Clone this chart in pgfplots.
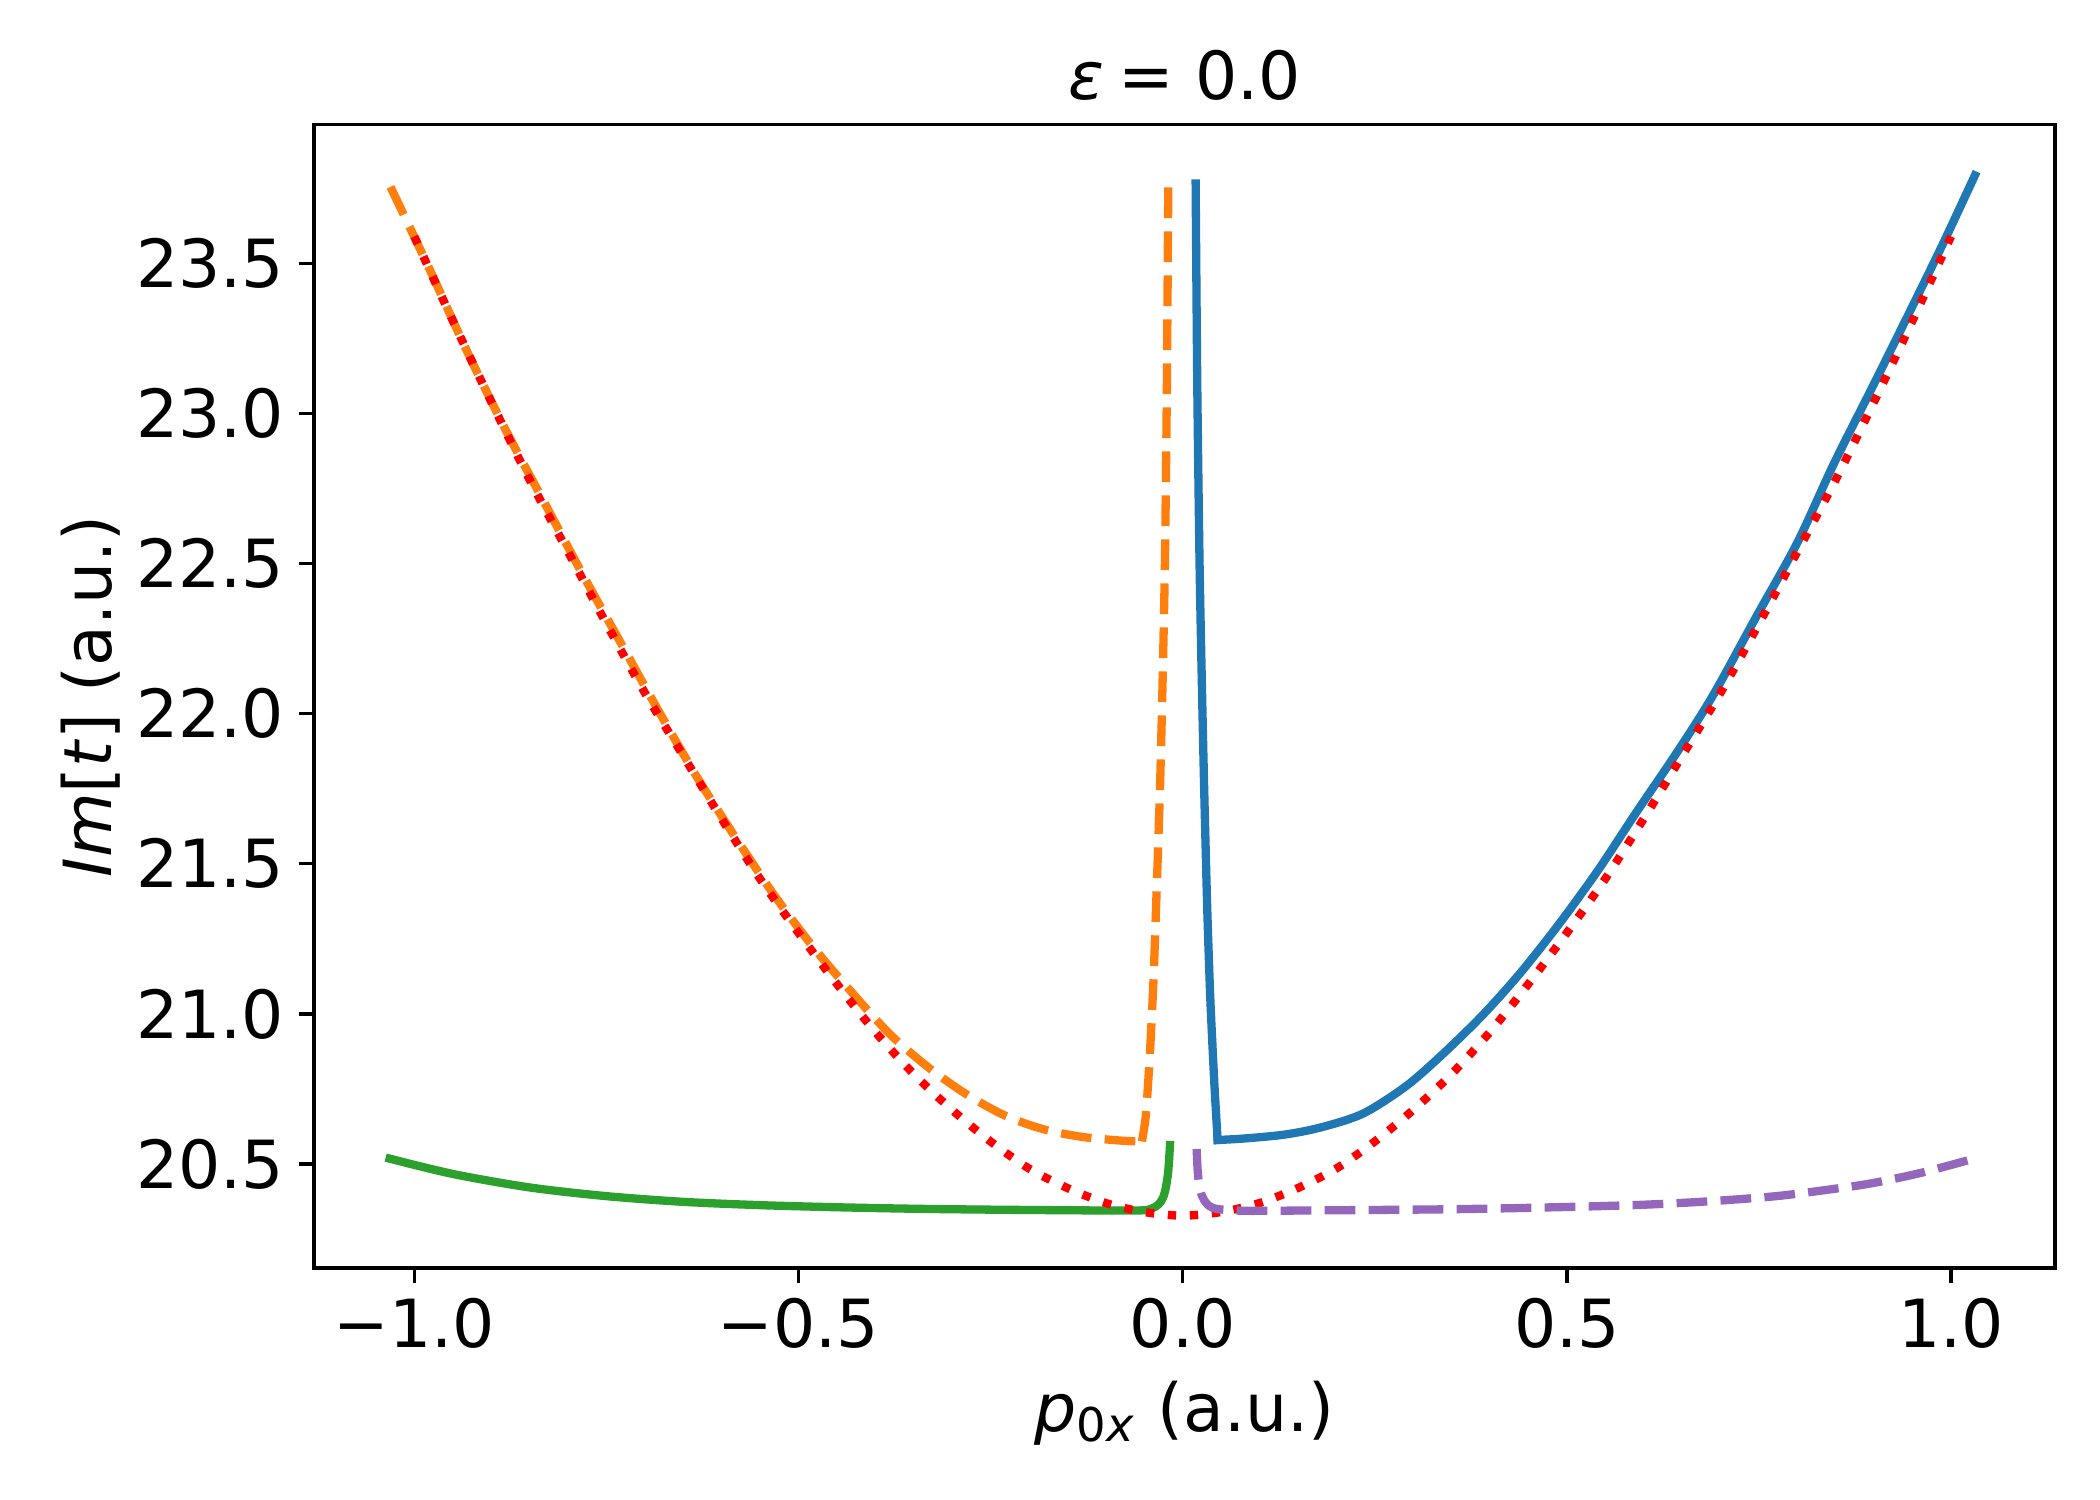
\documentclass[border=0pt]{standalone}
\usepackage{pgfplots}
\pgfplotsset{compat=1.18}
\usepackage{fontspec}
\setmainfont{DejaVu Sans}

\definecolor{tabblue}{HTML}{1F77B4}
\definecolor{taborange}{HTML}{FF7F0E}
\definecolor{tabgreen}{HTML}{2CA02C}
\definecolor{tabpurple}{HTML}{9467BD}

\begin{document}
\fontsize{16pt}{19pt}\selectfont
\begin{tikzpicture}
\begin{axis}[
  scale only axis,
  width=5.803in, height=3.812in,
  xmin=-1.1305, xmax=1.1352,
  ymin=20.1536, ymax=23.963,
  axis line style={line width=0.8pt},
  tick style={line width=0.8pt, black},
  tick align=outside,
  major tick length=3.5pt,
  xtick pos=bottom, ytick pos=left,
  xtick={-1,-0.5,0,0.5,1},
  xticklabels={−1.0,−0.5,0.0,0.5,1.0},
  ytick={20.5,21,21.5,22,22.5,23,23.5},
  yticklabels={20.5,21.0,21.5,22.0,22.5,23.0,23.5},
  xticklabel style={anchor=north, inner sep=0pt, yshift=-3.5pt},
  yticklabel style={anchor=east, inner sep=0pt, xshift=-3.5pt},
  title={\textit{ε}\hspace{3.5pt}= 0.0},
  title style={at={(axis description cs:0.5,1)}, anchor=base, inner sep=0pt},
  xlabel={\textit{p}\textsubscript{0\textit{x}} (a.u.)},
  xlabel style={at={(axis description cs:0.5,-0.1426)}, anchor=base, inner sep=0pt},
  ylabel={\textit{Im}[\textit{t}] (a.u.)},
  ylabel style={at={(axis description cs:-0.1166,0.5)}, anchor=base, inner sep=0pt},
  every axis plot/.append style={line width=2pt, line join=round},
]

% blue, solid: steep branch, then the rising branch
\addplot[tabblue, line cap=rect, smooth, tension=0.4] coordinates {
(0.0169,23.766) (0.019,23.1) (0.022,22.5) (0.025,22.1) (0.028,21.75)
(0.032,21.35) (0.036,21.05) (0.041,20.78) (0.0455,20.58)
};
\addplot[tabblue, line cap=rect, smooth, tension=0.5] coordinates {
(0.0455,20.58)
(0.08,20.585) (0.1326,20.598) (0.18,20.622) (0.2347,20.668) (0.29,20.758)
(0.3368,20.862) (0.39,20.995) (0.439,21.135) (0.49,21.30) (0.541,21.48)
(0.59,21.67) (0.643,21.87) (0.69,22.06) (0.745,22.316) (0.80,22.57)
(0.847,22.83) (0.90,23.10) (0.949,23.353) (0.99,23.568) (1.031,23.793)
};

% orange, dashed
\addplot[taborange, dash pattern=on 7.4pt off 3.2pt, smooth, tension=0.5] coordinates {
(-1.031,23.755) (-0.98,23.48) (-0.93,23.20) (-0.88,22.94) (-0.83,22.70)
(-0.78,22.46) (-0.73,22.23) (-0.68,22.00) (-0.63,21.78) (-0.58,21.58)
(-0.53,21.39) (-0.48,21.22) (-0.43,21.07) (-0.38,20.93) (-0.33,20.82)
(-0.28,20.73) (-0.23,20.66) (-0.18,20.615) (-0.13,20.59) (-0.08,20.578)
(-0.053,20.575)
};
\addplot[taborange, dash pattern=on 7.4pt off 3.2pt, smooth, tension=0.4] coordinates {
(-0.053,20.575)
(-0.048,20.66) (-0.043,20.85) (-0.038,21.11) (-0.034,21.40) (-0.0295,21.75)
(-0.026,22.12) (-0.023,22.515) (-0.0205,23.1) (-0.0187,23.764)
};

% green, solid
\addplot[tabgreen, line cap=rect, smooth, tension=0.5] coordinates {
(-1.032,20.518) (-0.95,20.467) (-0.85,20.422) (-0.75,20.393) (-0.65,20.374)
(-0.55,20.363) (-0.45,20.356) (-0.35,20.351) (-0.25,20.348) (-0.15,20.346)
(-0.08,20.345) (-0.05,20.346) (-0.04,20.352) (-0.032,20.364) (-0.026,20.385)
(-0.022,20.42) (-0.019,20.47) (-0.0175,20.52) (-0.0165,20.563)
};

% red, dotted
\addplot[red, dash pattern=on 2pt off 3.3pt, smooth, tension=0.5] coordinates {
(-1.0,23.59) (-0.95,23.31) (-0.9,23.04) (-0.85,22.78) (-0.8,22.54)
(-0.75,22.30) (-0.7,22.07) (-0.65,21.86) (-0.6,21.65) (-0.55,21.45)
(-0.5,21.27) (-0.45,21.10) (-0.4,20.94) (-0.35,20.80) (-0.3,20.68)
(-0.25,20.575) (-0.2,20.485) (-0.15,20.42) (-0.1,20.37) (-0.05,20.34)
(0,20.328)
(0.05,20.34) (0.1,20.37) (0.15,20.42) (0.2,20.485) (0.25,20.575)
(0.3,20.68) (0.35,20.80) (0.4,20.94) (0.45,21.10) (0.5,21.27)
(0.55,21.45) (0.6,21.65) (0.65,21.86) (0.7,22.07) (0.75,22.30)
(0.8,22.54) (0.85,22.78) (0.9,23.04) (0.95,23.31) (1.0,23.59)
};

% purple, dashed
\addplot[tabpurple, dash pattern=on 7.4pt off 3.2pt, smooth, tension=0.5] coordinates {
(0.0182,20.55) (0.0195,20.48) (0.0215,20.43) (0.025,20.395) (0.03,20.372)
(0.036,20.358) (0.045,20.35) (0.066,20.346) (0.09,20.344) (0.2,20.346)
(0.337,20.349) (0.45,20.354) (0.586,20.363) (0.68,20.375) (0.7725,20.393)
(0.85,20.418) (0.897,20.436) (0.96,20.47) (1.03,20.518)
};

\end{axis}
\path[use as bounding box] (-1.0467in,-0.7733in) rectangle ++(7in,5in);
\end{tikzpicture}
\end{document}
